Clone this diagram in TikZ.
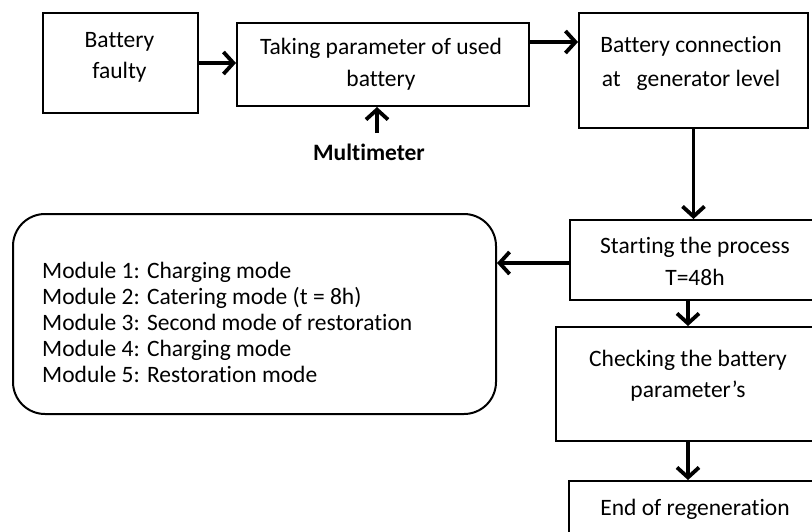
\documentclass[tikz,border=0pt]{standalone}
\usepackage{fontspec}
\setmainfont{Carlito}[Ligatures=NoCommon]
\usetikzlibrary{arrows.meta}
\begin{document}
\begin{tikzpicture}[x=1pt,y=-1pt,
  box/.style={draw, line width=2pt, inner sep=0pt, anchor=north west},
  roundbox/.style={box, rounded corners=32pt},
  txt/.style={inner sep=0pt, anchor=base, font=\fontsize{23.5}{32}\selectfont},
  ltxt/.style={txt, anchor=base west},
  btxt/.style={txt, font=\fontsize{23.5}{32}\selectfont\bfseries},
  arr/.style={line width=3.8pt, -{Straight Barb[length=10pt,width=22pt]}},
]
\useasboundingbox (0,0) rectangle (812,531);
\clip (0,0) rectangle (812,531);

% boxes
\node[box, minimum width=155pt, minimum height=100pt] (bf) at (42,12) {};
\node[box, minimum width=292pt, minimum height=83pt] (tp) at (236,22) {};
\node[box, minimum width=229pt, minimum height=115pt] (bc) at (578,12) {};
\node[box, minimum width=280pt, minimum height=80pt] (sp) at (569,219) {};
\node[box, minimum width=290pt, minimum height=114pt] (ck) at (555,326) {};
\node[box, minimum width=280pt, minimum height=90pt] (en) at (568,480) {};
\node[roundbox, minimum width=483pt, minimum height=200pt] (mods) at (12,213) {};

% box texts
\node[txt] (bf1) at (119.5,47) {Battery};
\node[txt] (bf2) at (119.5,78) {faulty};
\node[txt] (tp1) at (381,54) {Taking parameter of used};
\node[txt] (tp2) at (381,86) {battery};
\node[txt] (bc1) at (691,52) {Battery connection};
\node[txt] (bc2) at (691,86) {at\ \ \ generator level};
\node[txt] (sp1) at (695,253) {Starting the process};
\node[txt] (sp2) at (695,285) {T=48h};
\node[txt] (ck1) at (688,366) {Checking the battery};
\node[txt] (ck2) at (688,397) {parameter’s};
\node[txt] (en1) at (695,515) {End of regeneration};
\node[btxt] (mm) at (369,160) {Multimeter};

\node[ltxt] (m1) at (42,278) {Module 1: Charging mode};
\node[ltxt] (m2) at (42,304) {Module 2: Catering mode (t = 8h)};
\node[ltxt] (m3) at (42,330) {Module 3: Second mode of restoration};
\node[ltxt] (m4) at (42,356) {Module 4: Charging mode};
\node[ltxt] (m5) at (42,382) {Module 5: Restoration mode};

% connector guides
\coordinate (r1) at (0,42);
\coordinate (r2) at (0,263);
\coordinate (c2) at (688,0);
\coordinate (mmtail) at (377,133);

% connectors
\draw[arr] (bf.east) -- (bf.east -| tp.west);
\draw[arr] (tp.east |- r1) -- (bc.west |- r1);
\draw[arr] (mmtail) -- (mmtail |- tp.south);
\draw[arr] (bc.south) -- (bc.south |- sp.north);
\draw[arr] (sp.west |- r2) -- (mods.east |- r2);
\draw[arr] (sp.south -| c2) -- (ck.north -| c2);
\draw[arr] (ck.south -| c2) -- (en.north -| c2);
\end{tikzpicture}
\end{document}
